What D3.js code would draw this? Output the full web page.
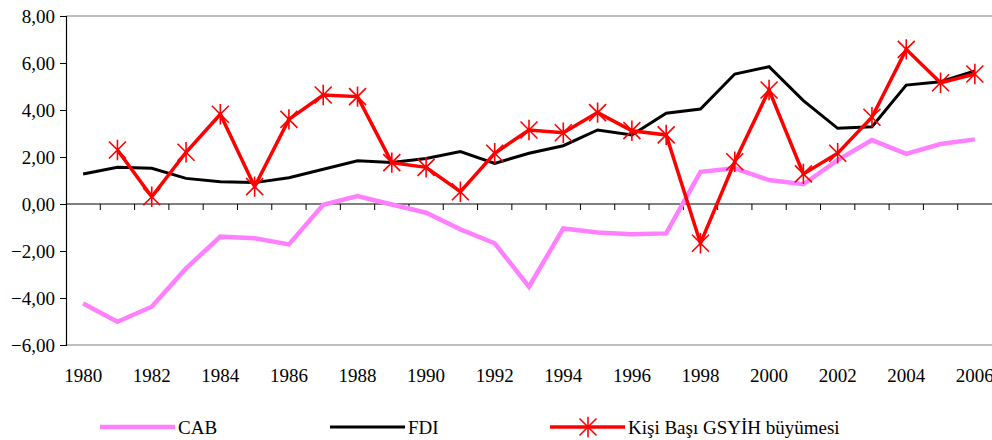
<!DOCTYPE html>
<html>
<head>
<meta charset="utf-8">
<script src="https://cdn.jsdelivr.net/npm/d3@7"></script>
<style>
  body { margin: 0; background: #fff; }
  svg { display: block; }
  svg text { font-family: "Liberation Serif", "Times New Roman", serif; }
</style>
</head>
<body>
<svg></svg>
<script>
var years = d3.range(1980, 2007);
var cab = [-4.23, -5.01, -4.37, -2.74, -1.39, -1.46, -1.72, -0.03, 0.34, -0.02, -0.37, -1.08, -1.67, -3.52,
    -1.04, -1.21, -1.29, -1.25, 1.37, 1.52, 1.02, 0.84, 1.87, 2.72, 2.13, 2.55, 2.75];
var fdi = [1.28, 1.56, 1.52, 1.09, 0.95, 0.91, 1.12, 1.48, 1.84, 1.77, 1.94, 2.23, 1.73, 2.16,
    2.48, 3.15, 2.94, 3.86, 4.04, 5.53, 5.84, 4.40, 3.22, 3.29, 5.06, 5.20, 5.66];
var gdp = [null, 2.30, 0.31, 2.20, 3.82, 0.74, 3.60, 4.64, 4.57, 1.76, 1.56, 0.52, 2.16, 3.15,
    3.03, 3.89, 3.12, 2.94, -1.67, 1.80, 4.85, 1.28, 2.16, 3.69, 6.58, 5.16, 5.53];
var yTicks = [-6, -4, -2, 0, 2, 4, 6, 8];
var seriesNames = ['CAB', 'FDI', 'Kişi Başı GSYİH büyümesi'];

var W = 992, H = 440;
var L = 66, R = 992, T = 16, B = 345;

var svg = d3.select('svg').attr('width', W).attr('height', H);

var x = d3.scaleBand().domain(years).range([L, R]);
var y = d3.scaleLinear().domain([-6, 8]).range([B, T]);
var cx = function (i) { return x(years[i]) + x.bandwidth() / 2; };
var fmt = function (v) { return d3.format('.2f')(v).replace('.', ','); };

// plot frame (top and bottom lines)
svg.append('line').attr('x1', L).attr('x2', W).attr('y1', T).attr('y2', T)
    .attr('stroke', '#808080').attr('stroke-width', 1.2);
svg.append('line').attr('x1', L).attr('x2', W).attr('y1', B).attr('y2', B)
    .attr('stroke', '#808080').attr('stroke-width', 1.2);

// y axis
var yAxis = d3.axisLeft(y).tickValues(yTicks).tickSize(6).tickPadding(5).tickFormat(fmt);
svg.append('g')
    .attr('transform', 'translate(' + L + ',0)')
    .call(yAxis)
    .call(function (g) {
        g.attr('font-family', null).attr('font-size', null);
        g.select('.domain').attr('stroke', '#000').attr('stroke-width', 1.2);
        g.selectAll('.tick line').attr('stroke', '#000');
        g.selectAll('.tick text').style('font-size', '19px').attr('fill', '#000');
    });

// x axis on zero line, ticks at category boundaries
var zero = svg.append('g');
zero.append('line').attr('x1', L).attr('x2', W).attr('y1', y(0)).attr('y2', y(0))
    .attr('stroke', '#000').attr('stroke-width', 1.2);
zero.selectAll('line.tk')
    .data(years.slice(1))
    .enter().append('line')
    .attr('class', 'tk')
    .attr('x1', function (d) { return x(d); })
    .attr('x2', function (d) { return x(d); })
    .attr('y1', y(0)).attr('y2', y(0) + 6)
    .attr('stroke', '#000').attr('stroke-width', 1);

svg.append('g').selectAll('text')
    .data(years.filter(function (d) { return d % 2 === 0; }))
    .enter().append('text')
    .attr('x', function (d) { return x(d) + x.bandwidth() / 2; })
    .attr('y', 382)
    .attr('text-anchor', 'middle')
    .style('font-size', '19px')
    .text(function (d) { return d; });

// lines
var line = d3.line()
    .defined(function (d) { return d != null; })
    .x(function (d, i) { return cx(i); })
    .y(function (d) { return y(d); });

svg.append('path').datum(cab).attr('d', line)
    .attr('fill', 'none').attr('stroke', '#ff80ff').attr('stroke-width', 4.5);
svg.append('path').datum(fdi).attr('d', line)
    .attr('fill', 'none').attr('stroke', '#000').attr('stroke-width', 3);
svg.append('path').datum(gdp).attr('d', line)
    .attr('fill', 'none').attr('stroke', '#ff0000').attr('stroke-width', 3.5);

function star(g, s) {
    g.append('path')
        .attr('d', 'M' + (-s) + ',' + (-s) + 'L' + s + ',' + s +
            'M' + (-s) + ',' + s + 'L' + s + ',' + (-s) +
            'M0,' + (-s * 1.2) + 'L0,' + (s * 1.2))
        .attr('stroke', '#ff0000').attr('stroke-width', 1.6).attr('fill', 'none');
}

svg.append('g').selectAll('g')
    .data(gdp.map(function (d, i) { return { v: d, i: i }; }).filter(function (d) { return d.v != null; }))
    .enter().append('g')
    .attr('transform', function (d) { return 'translate(' + cx(d.i) + ',' + y(d.v) + ')'; })
    .each(function () { star(d3.select(this), 8.5); });

// legend
var legend = [
    { name: seriesNames[0], color: '#ff80ff', w: 4.5, x: 100 },
    { name: seriesNames[1], color: '#000', w: 3, x: 330 },
    { name: seriesNames[2], color: '#ff0000', w: 3.5, x: 550, marker: true }
];
var lg = svg.append('g').selectAll('g').data(legend).enter().append('g')
    .attr('transform', function (d) { return 'translate(' + d.x + ',427)'; });
lg.append('line').attr('x1', 0).attr('x2', 75).attr('y1', 0).attr('y2', 0)
    .attr('stroke', function (d) { return d.color; })
    .attr('stroke-width', function (d) { return d.w; });
lg.filter(function (d) { return d.marker; }).append('g')
    .attr('transform', 'translate(38,0)')
    .each(function () { star(d3.select(this), 8.5); });
lg.append('text').attr('x', 78).attr('y', 7).style('font-size', '19px')
    .text(function (d) { return d.name; });
</script>
</body>
</html>
